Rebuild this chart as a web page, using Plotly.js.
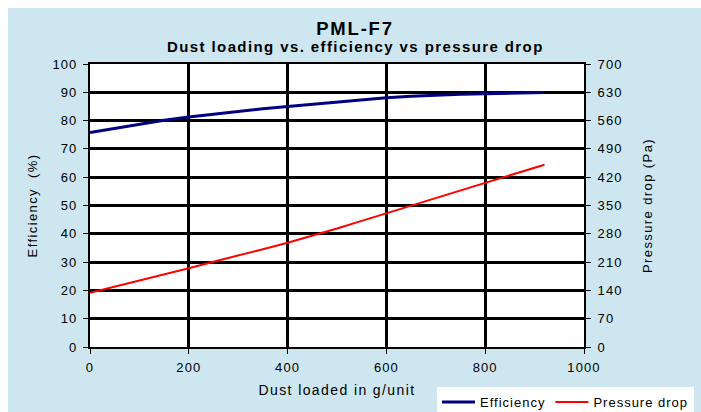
<!DOCTYPE html>
<html>
<head>
<meta charset="utf-8">
<script src="https://cdn.plot.ly/plotly-3.0.1.min.js"></script>
<style>
  html, body { margin: 0; padding: 0; background: #ffffff; }
  #wrap { position: relative; width: 701px; height: 412px; }
  #bg { position: absolute; left: 8px; top: 8px; right: 0; bottom: 0; background: #cde6f0; }
  #chart { position: absolute; left: 0; top: 0; width: 701px; height: 412px; }
  .xtick text, .ytick text, .y2tick text { letter-spacing: 1.1px; }
  .xtitle, .ytitle, .y2title { letter-spacing: 1.4px; }
  .legendtext { letter-spacing: 1px; }
  .gtitle { letter-spacing: 1.8px; }
  .annotation-text { letter-spacing: 1.4px; }
</style>
</head>
<body>
<div id="wrap"><div id="bg"></div><div id="chart"></div></div>
<script>
// Dust loaded (g/unit)
const dustLoaded = [0, 50, 100, 150, 200, 250, 300, 350, 400, 450, 500, 550, 600, 650, 700, 750, 800, 850, 920];
// Efficiency (%)
const efficiency = [75.8, 77.3, 78.8, 80.1, 81.3, 82.3, 83.3, 84.2, 85.0, 85.8, 86.6, 87.4, 88.1, 88.6, 89.0, 89.3, 89.5, 89.7, 89.9];
// Pressure drop (Pa)
const pressureDrop = [134, 149, 164, 180, 195, 211, 226, 242, 258, 275, 293, 312, 331, 350, 368, 387, 406, 425, 451];

const xTickVals = [0, 200, 400, 600, 800, 1000];

const mainTitle = "PML-F7";
const subTitle = "Dust loading vs. efficiency vs pressure drop";
const xTitle = "Dust loaded in g/unit";
const yTitle = "Efficiency  (%)";
const y2Title = "Pressure drop (Pa)";

const font = "Liberation Sans, Arial, sans-serif";

const traces = [
  { x: dustLoaded, y: efficiency, name: "Efficiency", type: "scatter", mode: "lines",
    line: { color: "#000080", width: 3 }, yaxis: "y" },
  { x: dustLoaded, y: pressureDrop, name: "Pressure drop", type: "scatter", mode: "lines",
    line: { color: "#ff0000", width: 2 }, yaxis: "y2" }
];

const axisCommon = {
  showline: true, linecolor: "#000", linewidth: 2,
  ticks: "outside", ticklen: 5, tickwidth: 1, tickcolor: "#000",
  zeroline: false,
  tickfont: { family: font, size: 13, color: "#000" }
};

const layout = {
  width: 701, height: 412,
  margin: { l: 90, r: 117, t: 64, b: 65, autoexpand: false },
  paper_bgcolor: "rgba(0,0,0,0)",
  plot_bgcolor: "#ffffff",
  font: { family: font, color: "#000" },
  showlegend: true,
  title: { text: "<b>" + mainTitle + "</b>", font: { family: font, size: 18.5, color: "#000" },
           x: 355 / 701, xref: "container", xanchor: "center",
           y: 1 - 28.5 / 412, yref: "container", yanchor: "middle" },
  annotations: [
    { text: "<b>" + subTitle + "</b>", xref: "paper", yref: "paper",
      x: (355 - 90) / 494, y: (347 - 46.5) / 283, xanchor: "center", yanchor: "middle",
      showarrow: false, font: { family: font, size: 15, color: "#000" } }
  ],
  xaxis: Object.assign({}, axisCommon, {
    range: [0, 1000], tickvals: xTickVals, mirror: true,
    showgrid: true, gridcolor: "#000", gridwidth: 3, ticklabelstandoff: 2,
    title: { text: xTitle, font: { family: font, size: 14, color: "#000" }, standoff: 12 }
  }),
  yaxis: Object.assign({}, axisCommon, {
    range: [0, 100], dtick: 10, mirror: true,
    showgrid: true, gridcolor: "#000", gridwidth: 3, ticklabelstandoff: 3,
    title: { text: yTitle, font: { family: font, size: 13, color: "#000" }, standoff: 12 }
  }),
  yaxis2: Object.assign({}, axisCommon, {
    range: [0, 700], dtick: 70, overlaying: "y", side: "right", showgrid: false, ticklabelstandoff: 4,
    title: { text: y2Title, font: { family: font, size: 13, color: "#000" }, standoff: 21 }
  }),
  legend: {
    orientation: "h", x: (437 - 90) / 494, xanchor: "left", y: (347 - 387) / 283, yanchor: "top",
    bgcolor: "#ffffff", borderwidth: 0, font: { family: font, size: 13, color: "#000" },
    itemwidth: 33
  }
};

Plotly.newPlot("chart", traces, layout, { displayModeBar: false, staticPlot: true });
</script>
</body>
</html>
